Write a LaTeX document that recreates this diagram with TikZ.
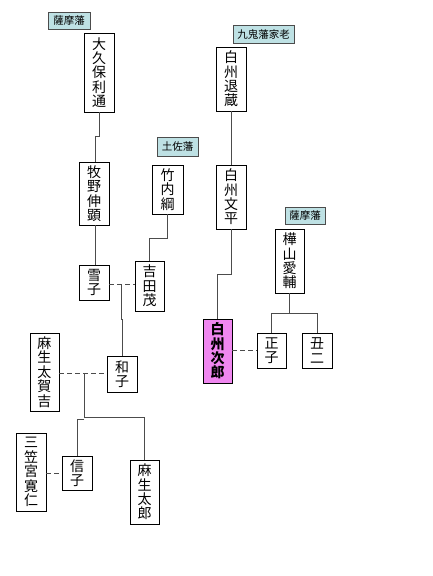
\documentclass[tikz,border=0pt]{standalone}
\usepackage{fontspec}
\setmainfont{Noto Sans CJK JP}
\begin{document}
\begin{tikzpicture}[x=1pt,y=-1pt,
  pbox/.style={draw=black,fill=white,line width=0.8pt,inner sep=0pt,align=center,
    font=\fontsize{14}{14.4}\selectfont},
  hanbox/.style={draw=black!70,line width=0.8pt,inner sep=0pt,
    font=\fontsize{10.5}{12}\selectfont},
  conn/.style={draw=black!70,line width=0.9pt},
  mar/.style={draw=black!70,line width=0.9pt,dash pattern=on 5pt off 3pt}]
\useasboundingbox (0,0) rectangle (432,576);
\definecolor{hanfill}{RGB}{190,225,228}
\definecolor{jiropink}{RGB}{240,135,240}
\tikzset{hanbox/.append style={fill=hanfill}}

% han labels
\node[hanbox,minimum width=42pt,minimum height=17pt] (sat1) at (69,20.5) {薩摩藩};
\node[hanbox,minimum width=41pt,minimum height=19pt] (tosa) at (177.5,146.5) {土佐藩};
\node[hanbox,minimum width=61pt,minimum height=18pt] (kuki) at (263.5,34) {九鬼藩家老};
\node[hanbox,minimum width=40pt,minimum height=17pt] (sat2) at (305,215.5) {薩摩藩};

% persons
\node[pbox,minimum width=30pt,minimum height=79pt] (okubo) at (99,72.5) {大\\久\\保\\利\\通};
\node[pbox,minimum width=30pt,minimum height=63pt] (makino) at (94,193.5) {牧\\野\\伸\\顕};
\node[pbox,minimum width=31pt,minimum height=49pt] (takeuchi) at (167.5,189.5) {竹\\内\\綱};
\node[pbox,minimum width=30pt,minimum height=35pt] (yukiko) at (94,282.5) {雪\\子};
\node[pbox,minimum width=29pt,minimum height=50pt] (yoshida) at (149.5,286) {吉\\田\\茂};
\node[pbox,minimum width=30pt,minimum height=36pt] (kazuko) at (122,374) {和\\子};
\node[pbox,minimum width=29pt,minimum height=78pt] (takakichi) at (44.5,372) {麻\\生\\太\\賀\\吉};
\node[pbox,minimum width=30pt,minimum height=34pt] (nobuko) at (77,473) {信\\子};
\node[pbox,minimum width=30pt,minimum height=78pt] (tomohito) at (31,472) {三\\笠\\宮\\寛\\仁};
\node[pbox,minimum width=29pt,minimum height=64pt] (taro) at (144.5,492) {麻\\生\\太\\郎};
\node[pbox,minimum width=30pt,minimum height=64pt] (taizo) at (231,79) {白\\州\\退\\蔵};
\node[pbox,minimum width=30pt,minimum height=64pt] (bunpei) at (231,197) {白\\州\\文\\平};
\node[pbox,fill=jiropink,minimum width=29pt,minimum height=64pt,
  font=\fontsize{14}{14.4}\selectfont\bfseries] (jiro) at (217.5,351) {白\\州\\次\\郎};
\node[pbox,minimum width=29pt,minimum height=64pt] (aisuke) at (289.5,261) {樺\\山\\愛\\輔};
\node[pbox,minimum width=29pt,minimum height=35pt] (masako) at (271.5,350.5) {正\\子};
\node[pbox,minimum width=30pt,minimum height=35pt] (ushiji) at (317,350.5) {丑\\二};

% coordinates for marriage lines
\coordinate (m1) at (121,284);
\coordinate (m2) at (84,373);

% connectors
\draw[conn] (okubo.south) -- ++(0,24) -| ([xshift=1pt]makino.north);
\draw[conn] ([xshift=1pt]makino.south) -- ([xshift=1pt]yukiko.north);
\draw[conn] (takeuchi.south) -- ++(0,24) -| (yoshida.north);
\draw[mar] (yukiko.east |- m1) -- (yoshida.west |- m1);
\draw[conn] (m1) -- ++(0,35) -| (kazuko.north);
\draw[mar] (takakichi.east |- m2) -- (kazuko.west |- m2);
\draw[conn] (m2) -- ++(0,44) -| (taro.north);
\draw[conn] ([yshift=-3pt]m2 |- taro.north) ++(0,-43) -| (nobuko.north);
\draw[mar] (tomohito.east |- nobuko) -- (nobuko.west);
\draw[conn] (taizo.south) -- (bunpei.north);
\draw[conn] (bunpei.south) -- ++(0,45) -| (jiro.north);
\draw[conn] (aisuke.south) -- ++(0,20) coordinate (m3);
\draw[conn] (masako.north) |- (m3) -| (ushiji.north);
\draw[mar] (jiro.east |- masako) -- (masako.west);
\end{tikzpicture}
\end{document}
